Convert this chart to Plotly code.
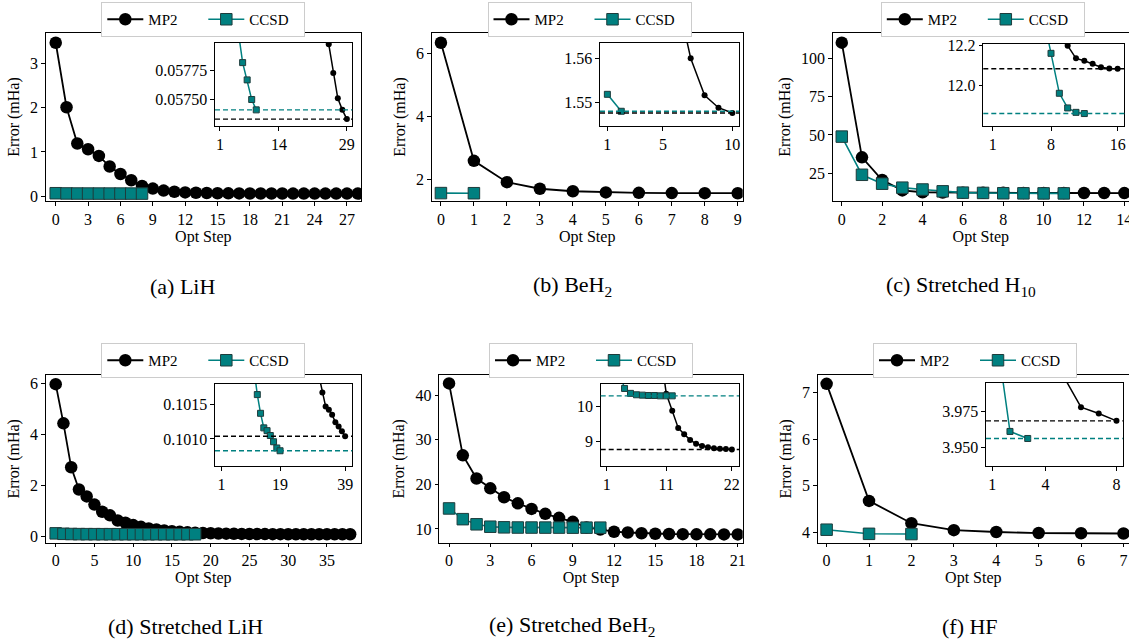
import plotly.graph_objects as go

# ---------------- data ----------------
lih_mp2 = [3.47, 2.01, 1.19, 1.06, 0.91, 0.67, 0.50, 0.36, 0.23, 0.17, 0.125, 0.100,
           0.085, 0.076, 0.070, 0.066, 0.063, 0.0615, 0.0603, 0.0595, 0.0590, 0.0587,
           0.0585, 0.0583, 0.05798, 0.05773, 0.05751, 0.05741, 0.05733]
lih_ccsd = [0.066, 0.061, 0.0592, 0.0585, 0.0581, 0.05782, 0.05767, 0.05750, 0.05741]

beh2_mp2 = [6.34, 2.58, 1.90, 1.69, 1.61, 1.574, 1.560, 1.5517, 1.5489, 1.5477]
beh2_ccsd = [1.5519, 1.5481]

h10_mp2 = [110.2, 35.4, 20.6, 13.8, 12.6, 12.45, 12.36, 12.29, 12.235, 12.20, 12.137,
           12.125, 12.11, 12.093, 12.087, 12.085]
h10_ccsd = [48.9, 24.0, 18.2, 15.6, 14.4, 13.2, 12.36, 12.162, 11.963, 11.89, 11.868, 11.862]

slih_mp2 = [5.97, 4.44, 2.72, 1.85, 1.58, 1.26, 0.98, 0.84, 0.64, 0.55, 0.46, 0.39, 0.33,
            0.29, 0.25, 0.22, 0.195, 0.175, 0.16, 0.148, 0.138, 0.130, 0.124, 0.119,
            0.115, 0.112, 0.109, 0.107, 0.105, 0.1035, 0.1019, 0.10167, 0.10147, 0.10142,
            0.10135, 0.10124, 0.10118, 0.10111, 0.10104]
slih_ccsd = [0.135, 0.118, 0.110, 0.106, 0.1042, 0.1033, 0.1028, 0.1025, 0.1023, 0.1021,
             0.1020, 0.10164, 0.10137, 0.10116, 0.10112, 0.10105, 0.10096, 0.10087, 0.10083]

sbeh2_mp2 = [42.6, 26.5, 21.3, 19.1, 17.1, 15.75, 14.5, 13.4, 12.5, 11.6, 10.36, 9.88,
             9.39, 9.21, 9.05, 8.94, 8.88, 8.84, 8.81, 8.80, 8.79, 8.78]
sbeh2_ccsd = [14.6, 12.2, 11.05, 10.51, 10.37, 10.33, 10.32, 10.31, 10.31, 10.30, 10.30, 10.30]

hf_mp2 = [7.19, 4.67, 4.19, 4.04, 4.00, 3.978, 3.9736, 3.9685]
hf_ccsd = [4.05, 3.9611, 3.9562]

series_names = ["MP2", "CCSD"]
captions = ["(a) LiH", "(b) BeH<sub>2</sub>", "(c) Stretched H<sub>10</sub>",
            "(d) Stretched LiH", "(e) Stretched BeH<sub>2</sub>", "(f) HF"]
x_title = "Opt Step"
y_title = "Error (mHa)"

main_xticks = [[0, 3, 6, 9, 12, 15, 18, 21, 24, 27], [0, 1, 2, 3, 4, 5, 6, 7, 8, 9],
               [0, 2, 4, 6, 8, 10, 12, 14], [0, 5, 10, 15, 20, 25, 30, 35],
               [0, 3, 6, 9, 12, 15, 18, 21], [0, 1, 2, 3, 4, 5, 6, 7]]
main_yticks = [[0, 1, 2, 3], [2, 4, 6], [25, 50, 75, 100], [0, 2, 4, 6],
               [10, 20, 30, 40], [4, 5, 6, 7]]
inset_xticks = [[1, 14, 29], [1, 5, 10], [1, 8, 16], [1, 19, 39], [1, 11, 22], [1, 4, 8]]
inset_yticks = [[0.0575, 0.05775], [1.55, 1.56], [12.0, 12.2], [0.1010, 0.1015],
                [9, 10], [3.950, 3.975]]
inset_yticklabels = [["0.05750", "0.05775"], ["1.55", "1.56"], ["12.0", "12.2"],
                     ["0.1010", "0.1015"], ["9", "10"], ["3.950", "3.975"]]

mp2_sets = [lih_mp2, beh2_mp2, h10_mp2, slih_mp2, sbeh2_mp2, hf_mp2]
ccsd_sets = [lih_ccsd, beh2_ccsd, h10_ccsd, slih_ccsd, sbeh2_ccsd, hf_ccsd]

# ---------------- layout / style ----------------
W, H = 1129, 639
FONT = "Liberation Serif"
BLACK = "#000000"
TEAL = "#008080"
EDGE = "#1e3c3c"

# pixel boxes (left, right, top, bottom)
main_boxes = [(45.7, 361, 33, 201), (431.7, 742.7, 33, 201), (832.7, 1129, 33, 201),
              (45.7, 361, 375, 542.7), (439.3, 742.7, 375, 542.7), (817.7, 1129, 375, 542.7)]
inset_boxes = [(215, 352.3, 43, 126), (600, 739.3, 43, 126), (983.3, 1124.3, 44, 126),
               (215, 352.3, 383.5, 466), (600.7, 739, 383.5, 466), (986, 1122.7, 383, 466)]
main_xr = [[-0.93, 28.3], [-0.28, 9.15], [-0.45, 14.23], [-1.29, 39.4], [-0.71, 21.36], [-0.21, 7.13]]
main_yr = [[-0.11, 3.69], [1.30, 6.65], [6.9, 116.5], [-0.23, 6.33], [6.93, 44.48], [3.77, 7.38]]
inset_xr = [[-0.1, 30.2], [0.47, 10.5], [-0.13, 16.8], [-1.0, 41.2], [0.0, 23.2], [0.65, 8.35]]
inset_yr = [[0.05727, 0.05799], [1.5448, 1.5634], [11.80, 12.2085], [0.10061, 0.10180],
            [8.31, 10.65], [3.937, 3.9949]]
legend_pos = [(203.3, 2), (589.5, 2), (982.8, 2), (203.3, 343), (591, 343), (975, 343)]
caption_pos = [(182, 286), (572, 286), (961, 286), (185, 626), (572, 626), (970, 626)]
clipped_right = [False, False, True, False, False, True]


def xdom(l, r):
    return [l / W, min(r / W, 1.0)]


def ydom(t, b):
    return [1 - b / H, 1 - t / H]


fig = go.Figure()
layout = dict(width=W, height=H, margin=dict(l=0, r=0, t=0, b=0, autoexpand=False),
              paper_bgcolor="white", plot_bgcolor="white",
              font=dict(family=FONT, size=16, color="black"), showlegend=True)
shapes = []
annotations = []

for i in range(6):
    m = i + 1
    n = i + 7
    mx, my = ("x" if m == 1 else f"x{m}"), ("y" if m == 1 else f"y{m}")
    ix, iy = f"x{n}", f"y{n}"
    leg = "legend" if m == 1 else f"legend{m}"
    mp2 = mp2_sets[i]
    ccsd = ccsd_sets[i]

    # main panel
    fig.add_trace(go.Scatter(x=list(range(len(mp2))), y=mp2, mode="lines+markers",
                             name=series_names[0], legend=leg, xaxis=mx, yaxis=my,
                             line=dict(color=BLACK, width=1.8),
                             marker=dict(symbol="circle", size=12.5, color=BLACK)))
    fig.add_trace(go.Scatter(x=list(range(len(ccsd))), y=ccsd, mode="lines+markers",
                             name=series_names[1], legend=leg, xaxis=mx, yaxis=my,
                             line=dict(color=TEAL, width=1.6),
                             marker=dict(symbol="square", size=11.5, color=TEAL,
                                         line=dict(color=EDGE, width=1))))
    # inset (steps counted from 1)
    fig.add_trace(go.Scatter(x=[k + 1 for k in range(len(mp2))], y=mp2, mode="lines+markers",
                             showlegend=False, xaxis=ix, yaxis=iy,
                             line=dict(color=BLACK, width=1.5),
                             marker=dict(symbol="circle", size=6, color=BLACK)))
    fig.add_trace(go.Scatter(x=[k + 1 for k in range(len(ccsd))], y=ccsd, mode="lines+markers",
                             showlegend=False, xaxis=ix, yaxis=iy,
                             line=dict(color=TEAL, width=1.5),
                             marker=dict(symbol="square", size=6, color=TEAL,
                                         line=dict(color=EDGE, width=1))))
    # converged reference lines
    for vals, col in ((mp2, BLACK), (ccsd, TEAL)):
        shapes.append(dict(type="line", xref=f"{ix} domain", yref=iy, x0=0, x1=1,
                           y0=vals[-1], y1=vals[-1], layer="above",
                           line=dict(color=col, width=1.4, dash="5px,3px")))

    l, r, t, b = main_boxes[i]
    axis_common = dict(showline=True, linecolor="black", linewidth=1.1, ticks="outside",
                       ticklen=3.5, tickwidth=1, tickcolor="black", showgrid=False,
                       zeroline=False, tickfont=dict(family=FONT, size=16),
                       ticklabeloverflow="allow")
    layout[("xaxis" if m == 1 else f"xaxis{m}")] = dict(
        axis_common, domain=xdom(l, r), anchor=my, range=main_xr[i], mirror=True,
        tickvals=main_xticks[i], ticktext=[str(v) for v in main_xticks[i]],
        title=dict(text=x_title, font=dict(family=FONT, size=16), standoff=2))
    layout[("yaxis" if m == 1 else f"yaxis{m}")] = dict(
        axis_common, domain=ydom(t, b), anchor=mx, range=main_yr[i],
        mirror=not clipped_right[i],
        tickvals=main_yticks[i], ticktext=[str(v) for v in main_yticks[i]],
        title=dict(text=y_title, font=dict(family=FONT, size=16), standoff=6))

    l, r, t, b = inset_boxes[i]
    layout[f"xaxis{n}"] = dict(
        axis_common, domain=xdom(l, r), anchor=iy, range=inset_xr[i], mirror=True,
        tickvals=inset_xticks[i], ticktext=[str(v) for v in inset_xticks[i]])
    layout[f"yaxis{n}"] = dict(
        axis_common, domain=ydom(t, b), anchor=ix, range=inset_yr[i], mirror=True,
        tickvals=inset_yticks[i], ticktext=inset_yticklabels[i])

    cx, ty = legend_pos[i]
    layout[leg] = dict(x=cx / W, y=1 - ty / H, xanchor="center", yanchor="top",
                       orientation="h", bgcolor="white", bordercolor="#cccccc",
                       borderwidth=1, font=dict(family=FONT, size=15),
                       itemsizing="trace", itemwidth=36, tracegroupgap=0,
                       entrywidth=50, entrywidthmode="pixels")

    px, py = caption_pos[i]
    annotations.append(dict(text=captions[i], xref="paper", yref="paper",
                            x=px / W, y=1 - py / H, xanchor="center", yanchor="middle",
                            showarrow=False, font=dict(family=FONT, size=22)))

layout["shapes"] = shapes
layout["annotations"] = annotations
fig.update_layout(**layout)
fig.write_html("out.html", config={"displayModeBar": False},
               post_script="document.body.style.margin='0';document.body.style.overflow='hidden';")
